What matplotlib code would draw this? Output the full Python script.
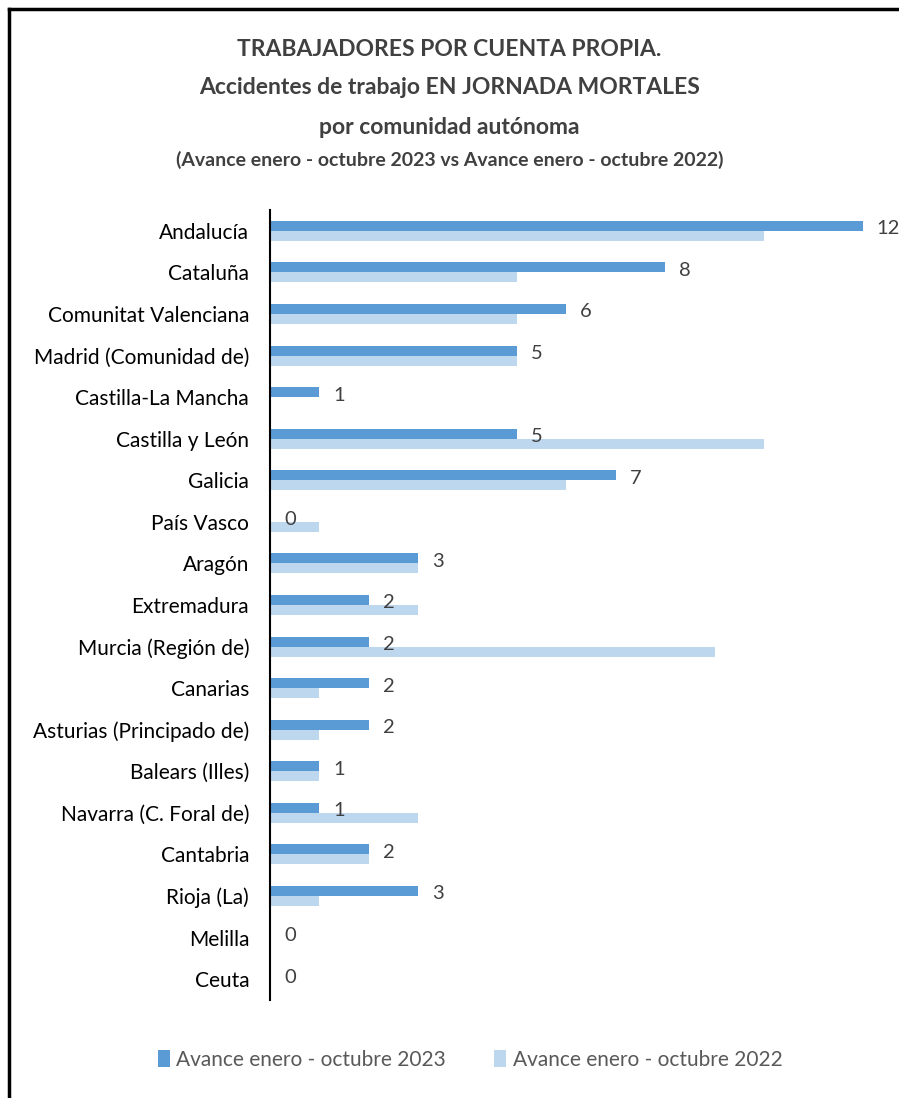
import matplotlib.pyplot as plt
import numpy as np

plt.rcParams['font.family'] = ['Lato', 'DejaVu Sans']

comunidades = ['Andalucía', 'Cataluña', 'Comunitat Valenciana', 'Madrid (Comunidad de)',
               'Castilla-La Mancha', 'Castilla y León', 'Galicia', 'País Vasco', 'Aragón',
               'Extremadura', 'Murcia (Región de)', 'Canarias', 'Asturias (Principado de)',
               'Balears (Illes)', 'Navarra (C. Foral de)', 'Cantabria', 'Rioja (La)',
               'Melilla', 'Ceuta']
valores_2023 = [12, 8, 6, 5, 1, 5, 7, 0, 3, 2, 2, 2, 2, 1, 1, 2, 3, 0, 0]
valores_2022 = [10, 5, 5, 5, 0, 10, 6, 1, 3, 3, 9, 1, 1, 1, 3, 2, 1, 0, 0]
serie_2023 = 'Avance enero - octubre 2023'
serie_2022 = 'Avance enero - octubre 2022'

color_2023 = '#5B9BD5'
color_2022 = '#BDD7EE'
gris = '#404040'

fig = plt.figure(figsize=(8.99, 10.98), dpi=100)
ax = fig.add_axes([270 / 899, 1 - 1000 / 1098, 629 / 899, 790 / 1098])

y = np.arange(len(comunidades))
h = 0.24
ax.barh(y - h / 2, valores_2023, height=h, color=color_2023, label=serie_2023)
ax.barh(y + h / 2, valores_2022, height=h, color=color_2022, label=serie_2022)

# etiquetas solo para 2023
for yi, v in zip(y, valores_2023):
    ax.annotate(str(v), (v, yi - 0.05), xytext=(10, 0), textcoords='offset points',
                va='center', ha='left', fontsize=14.5, color=gris, annotation_clip=False)

ax.set_xlim(0, 12.73)
ax.set_ylim(len(comunidades) - 0.5, -0.5)
ax.set_yticks(y)
ax.set_yticklabels(comunidades, fontsize=15, color='black')
ax.tick_params(axis='y', length=0, pad=15)
ax.set_xticks([])
for s in ['top', 'right', 'bottom']:
    ax.spines[s].set_visible(False)
ax.spines['left'].set_linewidth(1.5)

fig.text(0.5, 1 - 50 / 1098, 'TRABAJADORES POR CUENTA PROPIA.', ha='center', va='center',
         fontsize=16.5, fontweight='bold', color=gris)
fig.text(0.5, 1 - 88 / 1098, 'Accidentes de trabajo EN JORNADA MORTALES', ha='center', va='center',
         fontsize=16.5, fontweight='bold', color=gris)
fig.text(0.5, 1 - 127 / 1098, 'por comunidad autónoma', ha='center', va='center',
         fontsize=16.5, fontweight='bold', color=gris)
fig.text(0.5, 1 - 160 / 1098, '(Avance enero - octubre 2023 vs Avance enero - octubre 2022)',
         ha='center', va='center', fontsize=14, fontweight='bold', color=gris)

leg = fig.legend(loc='center', bbox_to_anchor=(470 / 899, 1 - 1060 / 1098), ncol=2, frameon=False,
                 fontsize=15, handlelength=0.6, handleheight=0.9, handletextpad=0.3,
                 columnspacing=2.3)
for t in leg.get_texts():
    t.set_color('#595959')

# marco del gráfico
fig.add_artist(plt.Line2D([9 / 899, 1], [1 - 9 / 1098, 1 - 9 / 1098], color='black', lw=2.5))
fig.add_artist(plt.Line2D([9 / 899, 9 / 899], [0, 1 - 9 / 1098], color='black', lw=2.5))

fig.savefig('out.png', dpi=100)
